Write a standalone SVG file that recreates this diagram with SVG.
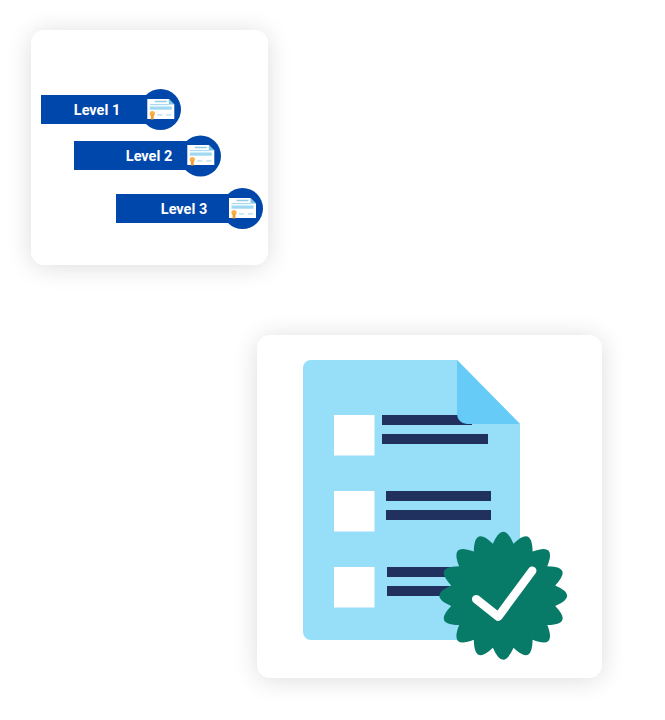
<svg xmlns="http://www.w3.org/2000/svg" width="665" height="720" viewBox="0 0 665 720">
<style>
.card{fill:#fff;filter:url(#sh)}
.blue{fill:#0047ab}
.lbl{font-family:Roboto,"Liberation Sans",sans-serif;font-weight:700;font-size:14.5px;fill:#fff;text-anchor:middle}
.navy{fill:#20315f}
.sq{fill:#fff}
</style>
<defs>
<filter id="sh" x="-30%" y="-30%" width="160%" height="160%"><feGaussianBlur in="SourceAlpha" stdDeviation="13"/><feOffset dy="2"/><feComponentTransfer><feFuncA type="linear" slope="0.14"/></feComponentTransfer><feMerge><feMergeNode/><feMergeNode in="SourceGraphic"/></feMerge></filter>
<g id="cert">
<path d="M0 0H21.500L27 5.500V20H0Z" fill="#fff"/>
<path d="M21.500 0L27 5.500H21.500Z" fill="#7cc4e0"/>
<path d="M7 1.800H20L19 3.200H8Z" fill="#8fcde8"/>
<rect x="2.500" y="5" width="19" height="1.200" fill="#a9dcf4"/>
<rect x="2.500" y="7.500" width="22" height="3.200" fill="#9ed8f2"/>
<rect x="10" y="15.500" width="5" height="0.900" fill="#8fcde8"/>
<rect x="19" y="15.500" width="5" height="0.900" fill="#8fcde8"/>
<circle cx="5" cy="14.500" r="2.600" fill="#f7b14a"/>
<path d="M3.600 15.500H6.400V20.500H3.600Z" fill="#f39c32"/>
</g>
</defs>
<g id="levels-card">
<rect class="card" x="31" y="30" width="237" height="235" rx="14"/>
</g>
<g id="level-1">
<rect class="blue" x="41" y="95" width="110" height="29"/>
<circle class="blue" cx="160.500" cy="109.500" r="20.500"/>
<use href="#cert" x="147.300" y="99"/>
<text class="lbl" x="97" y="115">Level 1</text>
</g>
<g id="level-2">
<rect class="blue" x="74" y="141" width="116" height="29"/>
<circle class="blue" cx="200.500" cy="156" r="20.500"/>
<use href="#cert" x="187.300" y="145"/>
<text class="lbl" x="149" y="161">Level 2</text>
</g>
<g id="level-3">
<rect class="blue" x="116" y="194" width="116" height="29"/>
<circle class="blue" cx="242.500" cy="208.500" r="20.500"/>
<use href="#cert" x="229" y="198"/>
<text class="lbl" x="184" y="214">Level 3</text>
</g>
<g id="checklist-card">
<rect class="card" x="257" y="335" width="345" height="343" rx="14"/>
</g>
<g id="document">
<path d="M311 360H457L520 424V640H311A8 8 0 0 1 303 632V368A8 8 0 0 1 311 360Z" fill="#97dff9"/>
<rect class="sq" x="334" y="415" width="40.500" height="40.500"/>
<rect class="navy" x="382" y="415" width="90" height="10"/>
<rect class="navy" x="382" y="434" width="106" height="10"/>
<rect class="sq" x="334" y="491" width="40.500" height="40.500"/>
<rect class="navy" x="386" y="491" width="105" height="10"/>
<rect class="navy" x="386" y="510" width="105" height="10"/>
<rect class="sq" x="334" y="567" width="40.500" height="40.500"/>
<rect class="navy" x="387" y="567" width="70" height="10"/>
<rect class="navy" x="387" y="586" width="70" height="10"/>
<path d="M457 360L520 424H467A10 10 0 0 1 457 414Z" fill="#66ccf7"/>
</g>
<g id="badge" transform="translate(503.200 595.700)">
<path d="M-10.300 -52Q0 -76 10.300 -52Q29.100 -70.200 29.400 -44.100Q53.700 -53.700 44.100 -29.400Q70.200 -29.100 52 -10.300Q76 0 52 10.300Q70.200 29.100 44.100 29.400Q53.700 53.700 29.400 44.100Q29.100 70.200 10.300 52Q0 76 -10.300 52Q-29.100 70.200 -29.400 44.100Q-53.700 53.700 -44.100 29.400Q-70.200 29.100 -52 10.300Q-76 0 -52 -10.300Q-70.200 -29.100 -44.100 -29.400Q-53.700 -53.700 -29.400 -44.100Q-29.100 -70.200 -10.300 -52Z" fill="#077a68"/>
<path d="M-27 3.500L-5 21L29 -25" fill="none" stroke="#fff" stroke-width="8.500" stroke-linecap="round" stroke-linejoin="round"/>
</g>
</svg>
